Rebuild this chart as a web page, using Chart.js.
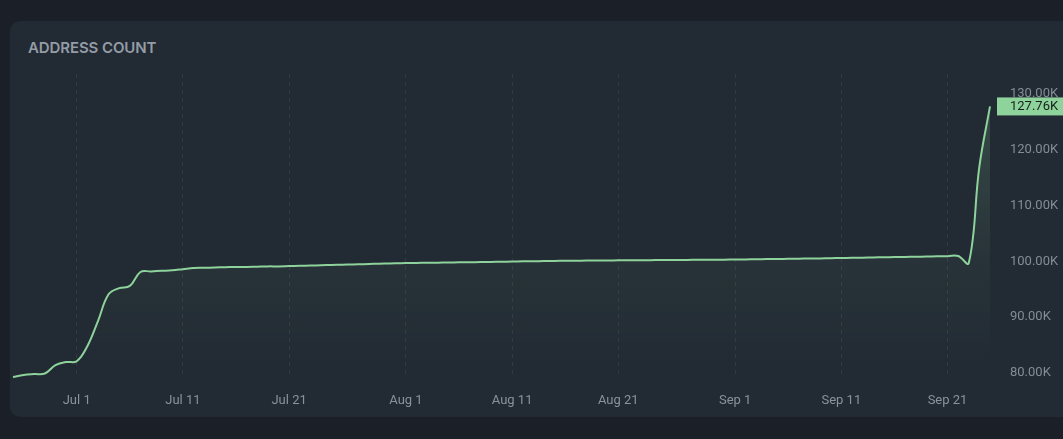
<!DOCTYPE html>
<html>
<head>
<meta charset="utf-8">
<script src="https://cdn.jsdelivr.net/npm/chart.js@4"></script>
<style>
  html, body { margin:0; padding:0; width:1063px; height:439px; background:#1b1f27; overflow:hidden; }
  #card { position:absolute; left:10px; top:21px; width:1080px; height:396px; background:#222a33; border-radius:10px; }
  #title { position:absolute; left:28px; top:38px; font-family:Inter, "Noto Sans", sans-serif; font-weight:600; font-size:15px; color:#949ca6; letter-spacing:-0.1px; }
  #wrap { position:absolute; left:0; top:0; width:1063px; height:439px; }
  canvas { display:block; }
</style>
</head>
<body>
<div id="card"></div>
<div id="title">ADDRESS COUNT</div>
<div id="wrap"><canvas id="c" width="1063" height="439"></canvas></div>
<script>
// Categories: daily dates Jun 25 .. Sep 25
const monthNames = ['Jun', 'Jul', 'Aug', 'Sep'];
const monthStartDay = [25, 1, 1, 1];
const monthEndDay = [30, 31, 31, 25];
const dates = [];
for (let m = 0; m < monthNames.length; m++) {
  for (let d = monthStartDay[m]; d <= monthEndDay[m]; d++) dates.push(monthNames[m] + ' ' + d);
}
// Address count in thousands, one value per day
const addressCountK = [
  79.29, 79.64, 79.80, 79.90, 81.40, 81.96, 82.10, 84.80, 89.30, 94.10,
  95.20, 95.60, 98.10, 98.20, 98.30, 98.40, 98.60, 98.80, 98.85, 98.90,
  98.95, 99.00, 99.00, 99.05, 99.10, 99.10, 99.15, 99.20, 99.25, 99.30,
  99.35, 99.40, 99.45, 99.50, 99.55, 99.60, 99.65, 99.70, 99.72, 99.75,
  99.77, 99.80, 99.82, 99.85, 99.87, 99.90, 99.93, 99.96, 100.00, 100.02,
  100.05, 100.08, 100.10, 100.12, 100.14, 100.15, 100.17, 100.18, 100.20, 100.20,
  100.22, 100.23, 100.24, 100.25, 100.27, 100.28, 100.30, 100.31, 100.33, 100.35,
  100.37, 100.40, 100.42, 100.45, 100.48, 100.50, 100.53, 100.56, 100.60, 100.63,
  100.66, 100.70, 100.73, 100.76, 100.80, 100.83, 100.86, 100.90, 100.93, 100.95,
  99.70, 117.00, 127.76
];
const xTickLabels = ['Jul 1', 'Jul 11', 'Jul 21', 'Aug 1', 'Aug 11', 'Aug 21', 'Sep 1', 'Sep 11', 'Sep 21'];
const yTickValues = [80, 90, 100, 110, 120, 130];

const lineColor = '#8ed29c';

const lastBadge = {
  id: 'lastBadge',
  afterDraw(chart) {
    const ctx = chart.ctx;
    const y = chart.scales.y;
    const v = addressCountK[addressCountK.length - 1];
    const py = y.getPixelForValue(v);
    const x0 = chart.chartArea.right + 7;
    ctx.save();
    ctx.fillStyle = lineColor;
    ctx.fillRect(x0, py - 9, chart.width - x0, 18);
    ctx.fillStyle = '#17221b';
    ctx.font = '13px Roboto';
    ctx.textBaseline = 'middle';
    ctx.textAlign = 'left';
    ctx.fillText(v.toFixed(2) + 'K', chart.chartArea.right + 20, py + 0.5);
    ctx.restore();
  }
};

new Chart(document.getElementById('c'), {
  type: 'line',
  data: {
    labels: dates,
    datasets: [{
      data: addressCountK,
      borderColor: lineColor,
      borderWidth: 2,
      pointRadius: 0,
      tension: 0.4,
      fill: 'start',
      backgroundColor(ctx) {
        const ca = ctx.chart.chartArea;
        if (!ca) return 'rgba(0,0,0,0)';
        const g = ctx.chart.ctx.createLinearGradient(0, ca.top, 0, ca.bottom);
        g.addColorStop(0, 'rgba(142,210,156,0.22)');
        g.addColorStop(0.6, 'rgba(142,210,156,0.06)');
        g.addColorStop(1, 'rgba(142,210,156,0)');
        return g;
      }
    }]
  },
  options: {
    responsive: false,
    animation: false,
    devicePixelRatio: 1,
    layout: { padding: { left: 13, top: 74, right: 0, bottom: 0 } },
    plugins: { legend: { display: false }, tooltip: { enabled: false } },
    scales: {
      x: {
        type: 'category',
        offset: false,
        grid: { display: true, drawTicks: false, color: 'rgba(255,255,255,0.07)', lineWidth: 1 },
        border: { display: false, dash: [4, 4] },
        afterBuildTicks(scale) {
          scale.ticks = xTickLabels.map(l => ({ value: dates.indexOf(l) }));
        },
        afterFit(scale) { scale.height = 61; },
        ticks: {
          autoSkip: false,
          maxRotation: 0,
          padding: 15,
          color: '#8a929c',
          font: { family: 'Roboto', size: 13 },
          callback(value) { return dates[value]; }
        }
      },
      y: {
        position: 'right',
        min: 79.1,
        max: 133.57,
        grid: { display: false, drawTicks: false },
        border: { display: false },
        afterBuildTicks(scale) {
          scale.ticks = yTickValues.map(v => ({ value: v }));
        },
        afterFit(scale) { scale.width = 73; },
        ticks: {
          padding: 20,
          color: '#848c96',
          font: { family: 'Roboto', size: 13 },
          callback(v) { return Number(v).toFixed(2) + 'K'; }
        }
      }
    }
  },
  plugins: [lastBadge]
});
</script>
</body>
</html>
